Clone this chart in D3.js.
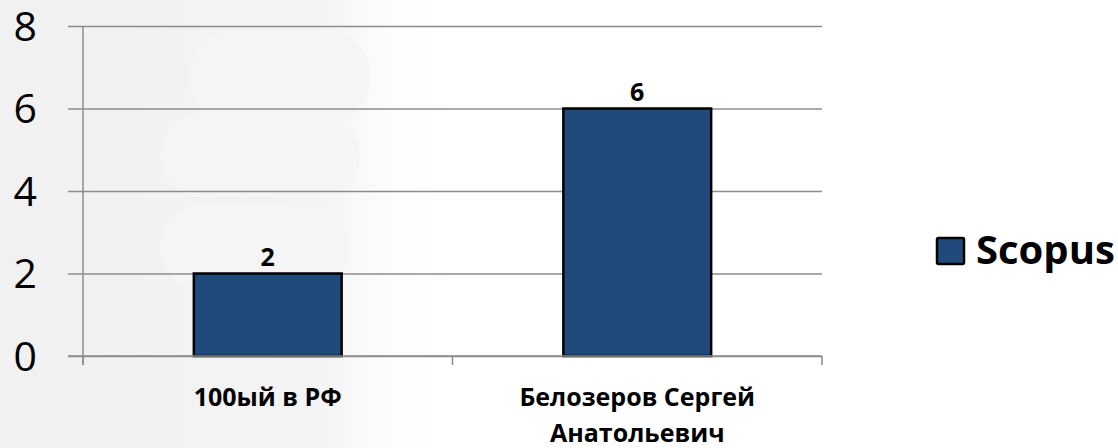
<!DOCTYPE html>
<html>
<head>
<meta charset="utf-8">
<script src="https://cdn.jsdelivr.net/npm/d3@7"></script>
<style>
  html, body { margin: 0; padding: 0; background: #ffffff; }
  svg { display: block; }
  text { font-family: "Open Sans", "Noto Sans", sans-serif; }
</style>
</head>
<body>
<svg id="chart" width="1118" height="448"></svg>
<script>
// ---- data ----
const categories = [["100ый в РФ"], ["Белозеров Сергей", "Анатольевич"]];
const values = [2, 6];
const seriesName = "Scopus";
const yTicks = [0, 2, 4, 6, 8];

// ---- layout ----
const W = 1118, H = 448;
const plot = { left: 83, right: 822, top: 26, bottom: 356 };
const barColor = "#214a7c";

const svg = d3.select("#chart");

// background watermark
const defs = svg.append("defs");
const grad = defs.append("linearGradient").attr("id", "bg").attr("x1", 0).attr("x2", 1).attr("y1", 0).attr("y2", 0);
grad.append("stop").attr("offset", "0%").attr("stop-color", "#f1f1f1");
grad.append("stop").attr("offset", "28%").attr("stop-color", "#f3f3f3");
grad.append("stop").attr("offset", "35%").attr("stop-color", "#fdfdfd");
grad.append("stop").attr("offset", "40%").attr("stop-color", "#ffffff");
svg.append("rect").attr("width", W).attr("height", H).attr("fill", "url(#bg)");
const petals = [
  { x: 190, y: 30, w: 180, h: 95, r: 45 },
  { x: 160, y: 112, w: 200, h: 85, r: 42 },
  { x: 160, y: 205, w: 190, h: 85, r: 42 }
];
svg.append("g").selectAll("rect").data(petals).join("rect")
  .attr("x", d => d.x).attr("y", d => d.y).attr("width", d => d.w).attr("height", d => d.h)
  .attr("rx", d => d.r).attr("fill", "#f5f5f5");

// scales
const x = d3.scaleBand().domain(d3.range(values.length)).range([plot.left, plot.right]).paddingInner(0.6).paddingOuter(0.3);
const xOuter = d3.scaleBand().domain(d3.range(values.length)).range([plot.left, plot.right]);
const y = d3.scaleLinear().domain([0, 8]).range([plot.bottom, plot.top]);

// gridlines + y ticks
const yAxis = d3.axisLeft(y).tickValues(yTicks).tickSize(-(plot.right - plot.left)).tickSizeOuter(0).tickFormat("");
const gy = svg.append("g").attr("transform", `translate(${plot.left},0)`).call(yAxis);
gy.select(".domain").remove();
gy.selectAll(".tick line").attr("stroke", "#8c8c8c").attr("stroke-width", 1.5).attr("x1", -15);

// y labels
svg.append("g").selectAll("text").data(yTicks).join("text")
  .attr("x", 37).attr("y", d => y(d)).attr("dy", "0.36em")
  .attr("text-anchor", "end").attr("font-size", 41).attr("fill", "#000")
  .text(d => d);

// y axis line
svg.append("line").attr("x1", plot.left).attr("x2", plot.left).attr("y1", plot.top).attr("y2", plot.bottom + 9)
  .attr("stroke", "#8c8c8c").attr("stroke-width", 1.5);

// x axis ticks at category boundaries
const xb = [plot.left, ...d3.range(values.length).map(i => xOuter(i) + xOuter.bandwidth())];
svg.append("g").selectAll("line").data(xb).join("line")
  .attr("x1", d => d).attr("x2", d => d).attr("y1", plot.bottom).attr("y2", plot.bottom + 9)
  .attr("stroke", "#8c8c8c").attr("stroke-width", 1.5);

// bars
svg.append("g").selectAll("rect").data(values).join("rect")
  .attr("x", (d, i) => x(i)).attr("width", x.bandwidth())
  .attr("y", d => y(d)).attr("height", d => y(0) - y(d))
  .attr("fill", barColor).attr("stroke", "#000").attr("stroke-width", 2.5);

// x axis baseline
svg.append("line").attr("x1", plot.left - 15).attr("x2", plot.right).attr("y1", plot.bottom).attr("y2", plot.bottom)
  .attr("stroke", "#8c8c8c").attr("stroke-width", 1.5);

// value labels
svg.append("g").selectAll("text").data(values).join("text")
  .attr("x", (d, i) => x(i) + x.bandwidth() / 2).attr("y", d => y(d) - 8)
  .attr("text-anchor", "middle").attr("font-size", 25).attr("font-weight", "bold").attr("fill", "#000")
  .text(d => d);

// category labels
const cl = svg.append("g").selectAll("text").data(categories).join("text")
  .attr("text-anchor", "middle").attr("font-size", 25).attr("font-weight", "bold").attr("fill", "#000");
cl.selectAll("tspan").data((d, i) => d.map((t, j) => ({ t, j, i }))).join("tspan")
  .attr("x", d => xOuter(d.i) + xOuter.bandwidth() / 2)
  .attr("y", d => 406 + d.j * 36)
  .text(d => d.t);

// legend
const lg = svg.append("g");
lg.append("rect").attr("x", 937).attr("y", 238).attr("width", 27).attr("height", 26)
  .attr("fill", barColor).attr("stroke", "#000").attr("stroke-width", 2.5).attr("rx", 1.5);
lg.append("text").attr("x", 976).attr("y", 264).attr("font-size", 40).attr("font-weight", "bold").attr("fill", "#000")
  .text(seriesName);
</script>
</body>
</html>
